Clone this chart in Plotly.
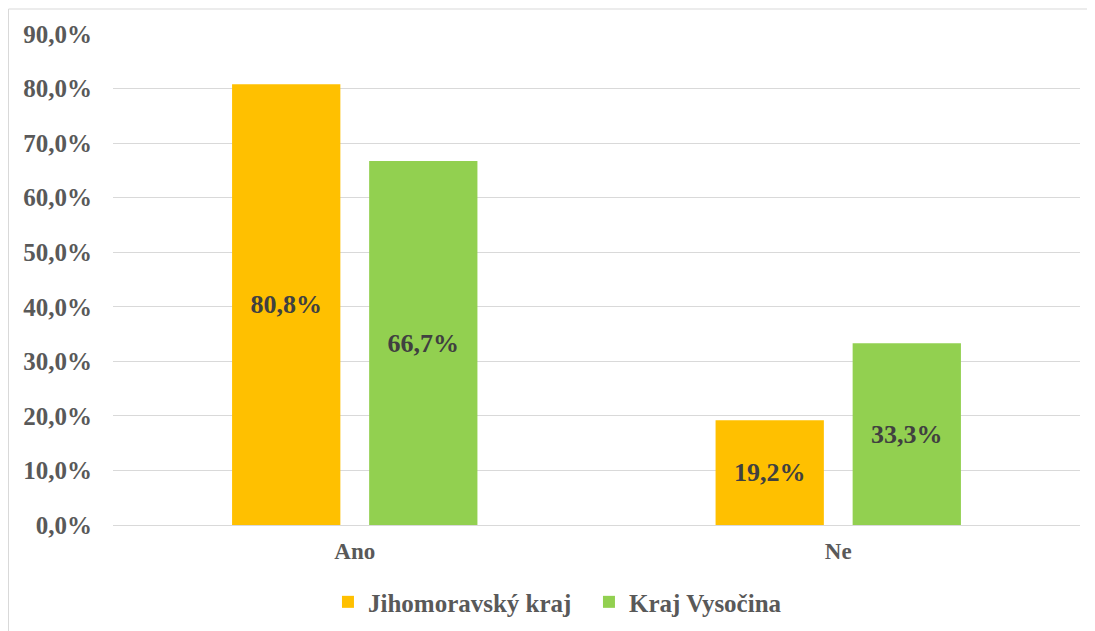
import plotly.graph_objects as go

categories = ["Ano", "Ne"]
series_names = ["Jihomoravský kraj", "Kraj Vysočina"]
jihomoravsky = [80.8, 19.2]
vysocina = [66.7, 33.3]
tick_vals = [0, 10, 20, 30, 40, 50, 60, 70, 80, 90]
tick_text = ["0,0%", "10,0%", "20,0%", "30,0%", "40,0%", "50,0%", "60,0%", "70,0%", "80,0%", "90,0%"]
colors = ["#FFC000", "#92D050"]

FONT = "Liberation Serif, Times New Roman, serif"

def fmt(v):
    return f"{v:.1f}".replace(".", ",") + "%"

fig = go.Figure()
for name, vals, col in zip(series_names, [jihomoravsky, vysocina], colors):
    fig.add_trace(go.Bar(
        x=categories, y=vals, name=name, marker_color=col,
        marker_line_width=0,
        text=[fmt(v) for v in vals], textposition="inside",
        insidetextanchor="middle",
        textfont=dict(family=FONT, size=26, color="#404040", weight="bold"),
        textangle=0,
    ))

# page body has an 8px offset; figure coordinates = screen - 8
W, H = 1087, 623
ml, mr, mt, mb = 105, 15, 26, 106
pw, ph = W - ml - mr, H - mt - mb

fig.update_layout(
    width=W, height=H,
    margin=dict(l=ml, r=mr, t=mt, b=mb, autoexpand=False),
    plot_bgcolor="white", paper_bgcolor="white",
    barmode="group", bargap=0.433, bargroupgap=0.21,
    font=dict(family=FONT, color="#595959", size=23),
    uniformtext=dict(mode=False),
    legend=dict(orientation="h", x=0.2223, xanchor="left", y=-0.157, yanchor="middle",
                font=dict(family=FONT, size=25, color="#595959", weight="bold"),
                itemwidth=30, tracegroupgap=0, entrywidth=216),
    xaxis=dict(showgrid=False, showline=False, ticks="", automargin=False,
               ticklabelstandoff=10,
               tickfont=dict(family=FONT, size=23, color="#595959", weight="bold")),
    yaxis=dict(range=[0, 90], tickvals=tick_vals, ticktext=tick_text, automargin=False,
               showgrid=True, gridcolor="#d9d9d9", gridwidth=1,
               zeroline=True, zerolinecolor="#d9d9d9", zerolinewidth=1,
               showline=False, ticks="", ticklabelstandoff=20,
               tickfont=dict(family=FONT, size=25, color="#595959", weight="bold")),
    shapes=[dict(type="rect", xref="paper", yref="paper",
                 x0=(0.5 - ml) / pw, x1=(W + 20 - ml) / pw,
                 y0=-(H + 20 - (H - mb)) / ph, y1=1 + (mt - 1) / ph,
                 line=dict(color="#d9d9d9", width=1), layer="below")],
)

fig.write_html("out.html")
